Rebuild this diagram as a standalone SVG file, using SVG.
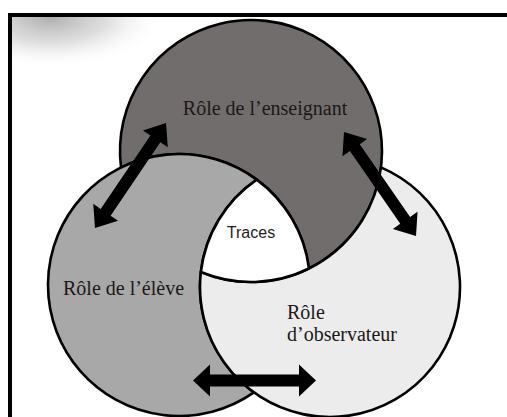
<svg xmlns="http://www.w3.org/2000/svg" width="507" height="417" viewBox="0 0 507 417">
  <style>
    .region { stroke: #000; stroke-width: 2.6; stroke-linejoin: round; }
    .ens { fill: #726d6d; }
    .elv { fill: #a8a8a8; }
    .obs { fill: #ececec; }
    .trc { fill: #ffffff; }
    .lbl { font-family: "Liberation Serif", "Times New Roman", serif; font-size: 20px; fill: #1c1818; }
    .lbl-sans { font-family: "Liberation Sans", Arial, sans-serif; font-size: 16px; fill: #1c1c1c; }
    .arrow { fill: #000; }
  </style>
  <defs>
    <radialGradient id="shadow" gradientUnits="userSpaceOnUse" cx="50" cy="17" r="115" gradientTransform="translate(50 17) scale(1 0.45) translate(-50 -17)">
      <stop offset="0" stop-color="#a9a9a9" stop-opacity="0.95"/>
      <stop offset="0.5" stop-color="#c8c8c8" stop-opacity="0.6"/>
      <stop offset="1" stop-color="#ffffff" stop-opacity="0"/>
    </radialGradient>
  </defs>

  <rect x="0" y="0" width="507" height="417" fill="#ffffff"/>
  <rect x="12" y="17" width="170" height="60" fill="url(#shadow)"/>
  <rect x="10" y="15" width="520" height="420" fill="none" stroke="#000" stroke-width="4"/>

  <g id="node-enseignant">
    <path class="region ens" d="M121.04,167.52 A131,131 0 1 1 308.96,268.48 A131,131 0 0 0 121.04,167.52 Z"/>
    <text class="lbl" x="265" y="115" text-anchor="middle">Rôle de l’enseignant</text>
  </g>

  <g id="node-eleve">
    <path class="region elv" d="M253.95,392.44 A131,131 0 1 1 256.77,179.58 A130,130 0 0 0 253.95,392.44 Z"/>
    <text class="lbl" x="63" y="295">Rôle de l’élève</text>
  </g>

  <g id="node-observateur">
    <path class="region obs" d="M380.97,167.41 A130,130 0 1 1 200.87,272.03 A131,131 0 0 0 380.97,167.41 Z"/>
    <text class="lbl" x="287" y="319">Rôle</text>
    <text class="lbl" x="287" y="341">d’observateur</text>
  </g>

  <g id="node-traces">
    <path class="region trc" d="M256.77,179.58 A131,131 0 0 1 308.96,268.48 A131,131 0 0 1 200.87,272.03 A130,130 0 0 1 256.77,179.58 Z"/>
    <text class="lbl-sans" x="251" y="238" text-anchor="middle">Traces</text>
  </g>

  <g id="connectors">
    <polygon class="arrow" transform="translate(95,228) rotate(-55.9)" points="0,0 19,-15 19,-6 107.7,-6 107.7,-15 126.7,0 107.7,15 107.7,6 19,6 19,15"/>
    <polygon class="arrow" transform="translate(344,132) rotate(55.3)" points="0,0 19,-15 19,-6 107.5,-6 107.5,-15 126.5,0 107.5,15 107.5,6 19,6 19,15"/>
    <polygon class="arrow" transform="translate(193,380.5)" points="0,0 17,-16 17,-6 106,-6 106,-16 123,0 106,16 106,6 17,6 17,16"/>
  </g>
</svg>
